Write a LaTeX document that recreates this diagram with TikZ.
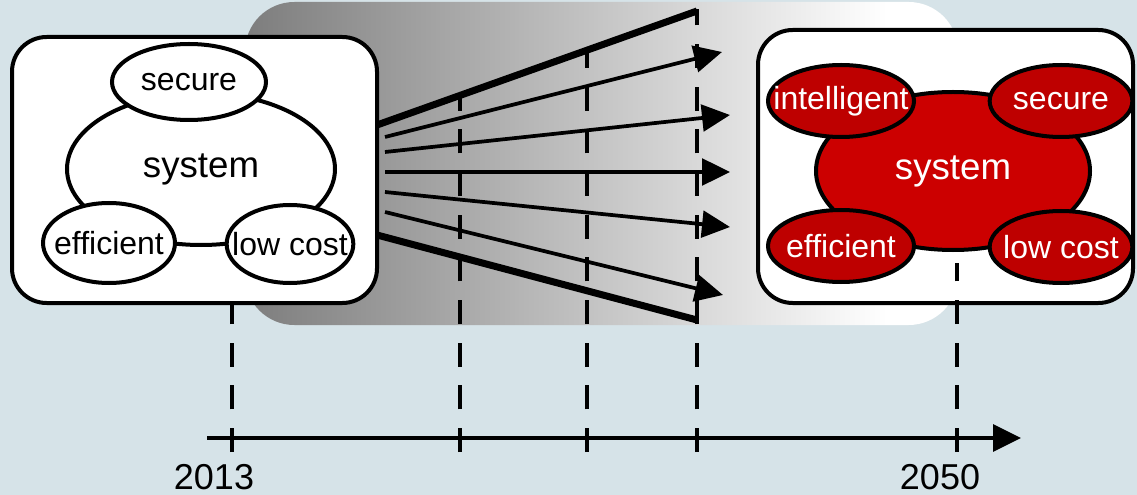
\documentclass[tikz,border=0pt]{standalone}
\usepackage{fontspec}
\setmainfont{Liberation Sans}
\usetikzlibrary{arrows.meta,shapes.geometric}
\definecolor{bg}{RGB}{214,227,232}
\definecolor{sysred}{RGB}{204,0,0}
\definecolor{subred}{RGB}{190,0,0}
\definecolor{gstart}{RGB}{125,125,125}
\pgfdeclarehorizontalshading{fanshade}{100bp}{color(0bp)=(gstart); color(25bp)=(gstart); color(70bp)=(white); color(100bp)=(white)}
\newcommand{\zwtext}[1]{\makebox[0pt]{#1}}
\begin{document}
\begin{tikzpicture}[x=0.75pt,y=-0.75pt,
  box/.style={draw=black, line width=3pt, fill=white, rounded corners=26pt, inner sep=0pt},
  ell/.style={ellipse, draw=black, line width=3pt, inner sep=0pt},
  lsub/.style={ell, fill=white, font=\fontsize{24}{28}\selectfont},
  lsys/.style={ell, fill=white, font=\fontsize{27.5}{32}\selectfont},
  rsub/.style={ell, fill=subred, text=white, font=\fontsize{24}{28}\selectfont},
  rsys/.style={ell, fill=sysred, text=white, font=\fontsize{27.5}{32}\selectfont},
  thickln/.style={line width=5.25pt},
  thinarrow/.style={line width=2.8pt, -{Triangle[length=21pt,width=20pt]}},
  timeline/.style={line width=3pt, dash pattern=on 18pt off 14pt},
  axisline/.style={line width=3pt, -{Triangle[length=21pt,width=20pt]}},
  year/.style={font=\fontsize{27}{31}\selectfont, inner sep=0pt}
]
\useasboundingbox (0,0) rectangle (1137,495);
\fill[bg] (0,0) rectangle (1137,495);

% gradient band
\path[shading=fanshade, rounded corners=37pt] (245,2) rectangle (958,325);

% coordinates on the fan
\coordinate (t1) at (460,95.7);
\coordinate (t2) at (587,50.8);
\coordinate (t3) at (697,9);
\coordinate (b0) at (232,452);
\coordinate (b1) at (460,452);
\coordinate (b2) at (587,452);
\coordinate (b3) at (697,452);
\coordinate (b4) at (957,452);
\coordinate (lt) at (232,303);
\coordinate (rt) at (957,263);

% dashed time lines
\draw[timeline] (b0) -- (lt);
\draw[timeline] (b1) -- (t1);
\draw[timeline] (b2) -- (t2);
\draw[timeline] (b3) -- (t3);

% boxes
\node[box, minimum width=273.75pt, minimum height=199.5pt] (lbox) at (194.5,170) {};
\node[box, minimum width=281.25pt, minimum height=204.75pt] (rbox) at (945.5,166.5) {};
\draw[timeline] (b4) -- (rt);

% fan lines
\coordinate (s0) at (377,125);
\coordinate (s1) at (385,137);
\coordinate (s2) at (385,152);
\coordinate (s3) at (385,172);
\coordinate (s4) at (385,192);
\coordinate (s5) at (385,212);
\coordinate (s6) at (377,235);
\coordinate (e0) at (697,11);
\coordinate (e1) at (722,52);
\coordinate (e2) at (730,115);
\coordinate (e3) at (730,172);
\coordinate (e4) at (730,227);
\coordinate (e5) at (723,295);
\coordinate (e6) at (697,320);
\draw[thickln] (s0) -- (e0);
\draw[thickln] (s6) -- (e6);
\draw[thinarrow] (s1) -- (e1);
\draw[thinarrow] (s2) -- (e2);
\draw[thinarrow] (s3) -- (e3);
\draw[thinarrow] (s4) -- (e4);
\draw[thinarrow] (s5) -- (e5);

% left system
\node[lsys, minimum width=201pt, minimum height=114pt] (lsystem) at (201,169) {\zwtext{system}};
\node[lsub, minimum width=115.5pt, minimum height=57pt] (lsecure) at (189,82) {\zwtext{secure}};
\node[lsub, minimum width=99pt, minimum height=60pt] (leff) at (109,243) {\zwtext{efficient}};
\node[lsub, minimum width=95pt, minimum height=58.5pt] (lcost) at (290,244) {\zwtext{low cost}};

% right system
\node[rsys, minimum width=205.5pt, minimum height=118.5pt] (rsystem) at (953,171) {\zwtext{system}};
\node[rsub, minimum width=109.5pt, minimum height=54pt] (rint) at (841,101) {\zwtext{intelligent}};
\node[rsub, minimum width=107pt, minimum height=54pt] (rsecure) at (1061,101) {\zwtext{secure}};
\node[rsub, minimum width=109.5pt, minimum height=54pt] (reff) at (841,246) {\zwtext{efficient}};
\node[rsub, minimum width=107pt, minimum height=54pt] (rcost) at (1061,247) {\zwtext{low cost}};

% time axis
\coordinate (a0) at (207,438);
\coordinate (a1) at (1021,438);
\draw[axisline] (a0) -- (a1);
\node[year] (y2013) at (214,477) {2013};
\node[year] (y2050) at (940,477) {2050};
\end{tikzpicture}
\end{document}
